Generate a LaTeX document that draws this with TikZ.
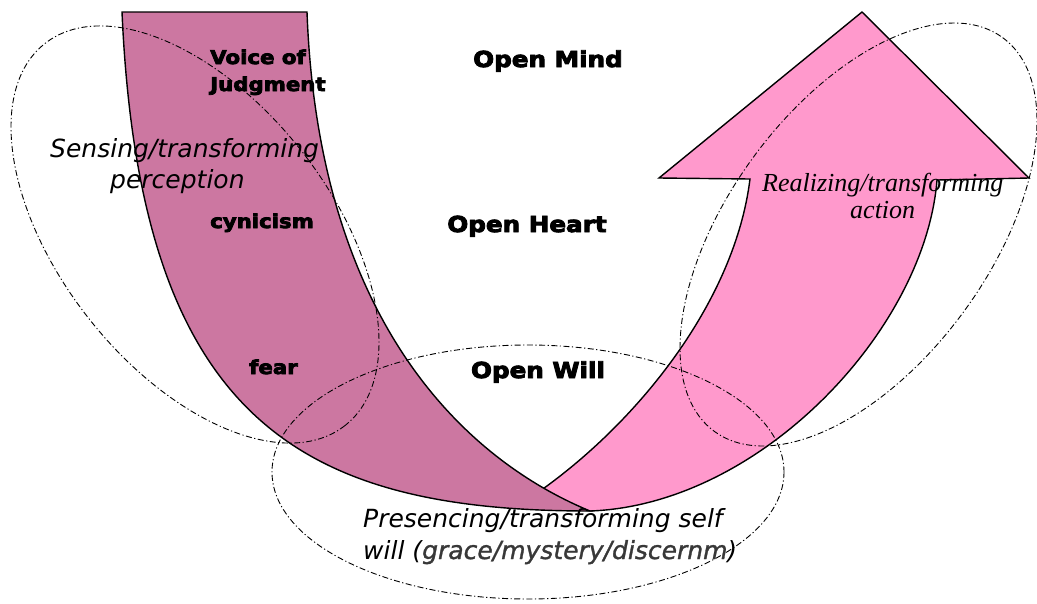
\documentclass[tikz,border=0pt]{standalone}
\usepackage{fontspec}
\newfontfamily\labfont[FakeStretch=1.12,FakeBold=4]{DejaVu Sans}
\newfontfamily\itsans{DejaVu Sans}
\newfontfamily\itsansb[FakeBold=1.2]{DejaVu Sans}
\newfontfamily\itserif{Liberation Serif}
\definecolor{bandpurple}{RGB}{204,119,161}
\definecolor{bandpink}{RGB}{255,153,204}
\begin{document}
\begin{tikzpicture}[x=1pt,y=-1pt,
  band/.style={draw=black, line width=1.4pt, line join=miter},
  halo/.style={draw=black, line width=0.9pt, dash pattern=on 6pt off 2.5pt on 1.2pt off 2.5pt},
  big/.style={font=\labfont\bfseries\fontsize{22}{26}\selectfont, inner sep=0pt, anchor=base},
  small/.style={font=\labfont\bfseries\fontsize{19}{22}\selectfont, inner sep=0pt, anchor=base west},
  sanit/.style={font=\itsans\itshape\fontsize{25}{30}\selectfont, inner sep=0pt, anchor=base west},
  serit/.style={font=\itserif\itshape\fontsize{26}{30}\selectfont, inner sep=0pt, anchor=base west}]
\fill[white] (0,0) rectangle (1037,603);
\clip (0,0) rectangle (1037,603);
% pink rising arrow
\path[band, fill=bandpink] (540,491) .. controls (640,420) and (735,300) .. (750,179)
  -- (659,178) -- (862,12) -- (1029,178) -- (937,180)
  .. controls (925,330) and (760,505) .. (590,511)
  -- (530,500) -- cycle;
% purple descending band
\path[band, fill=bandpurple] (122,12) -- (307,12)
  .. controls (318,310) and (455,455) .. (590,511)
  .. controls (300,511) and (140,420) .. (122,12) -- cycle;
% dash-dot ellipses
\draw[halo] (195,234.5) ellipse [x radius=242.9, y radius=135.4, rotate=-51.85];
\draw[halo] (858.5,234.5) ellipse [x radius=244, y radius=130.5, rotate=53.8];
\draw[halo] (528,472) ellipse [x radius=256, y radius=127];
% labels
\node[big] (mind) at (548,67) {Open Mind};
\node[big] (heart) at (527,232) {Open Heart};
\node[big] (will) at (538,378) {Open Will};
\node[small] (voice) at (210,64) {Voice of};
\node[small] (judg) at (210,91) {Judgment};
\node[small] (cyn) at (210,228) {cynicism};
\node[small] (fear) at (249,374) {fear};
\begin{scope}
\clip (0,0) rectangle (319,603);
\node[sanit] (sens1) at (50,157) {Sensing/transforming};
\end{scope}
\node[sanit] (sens2) at (110,188) {perception};
\node[serit] (real1) at (762,191) {Realizing/transforming};
\node[serit] (real2) at (850,218) {action};
\node[sanit] (pres1) at (363,527) {Presencing/transforming self};
\node[sanit] (pres2) at (363,559) {will (\textcolor{black!78}{\itsansb grace/mystery/discernm})};
\end{tikzpicture}
\end{document}
